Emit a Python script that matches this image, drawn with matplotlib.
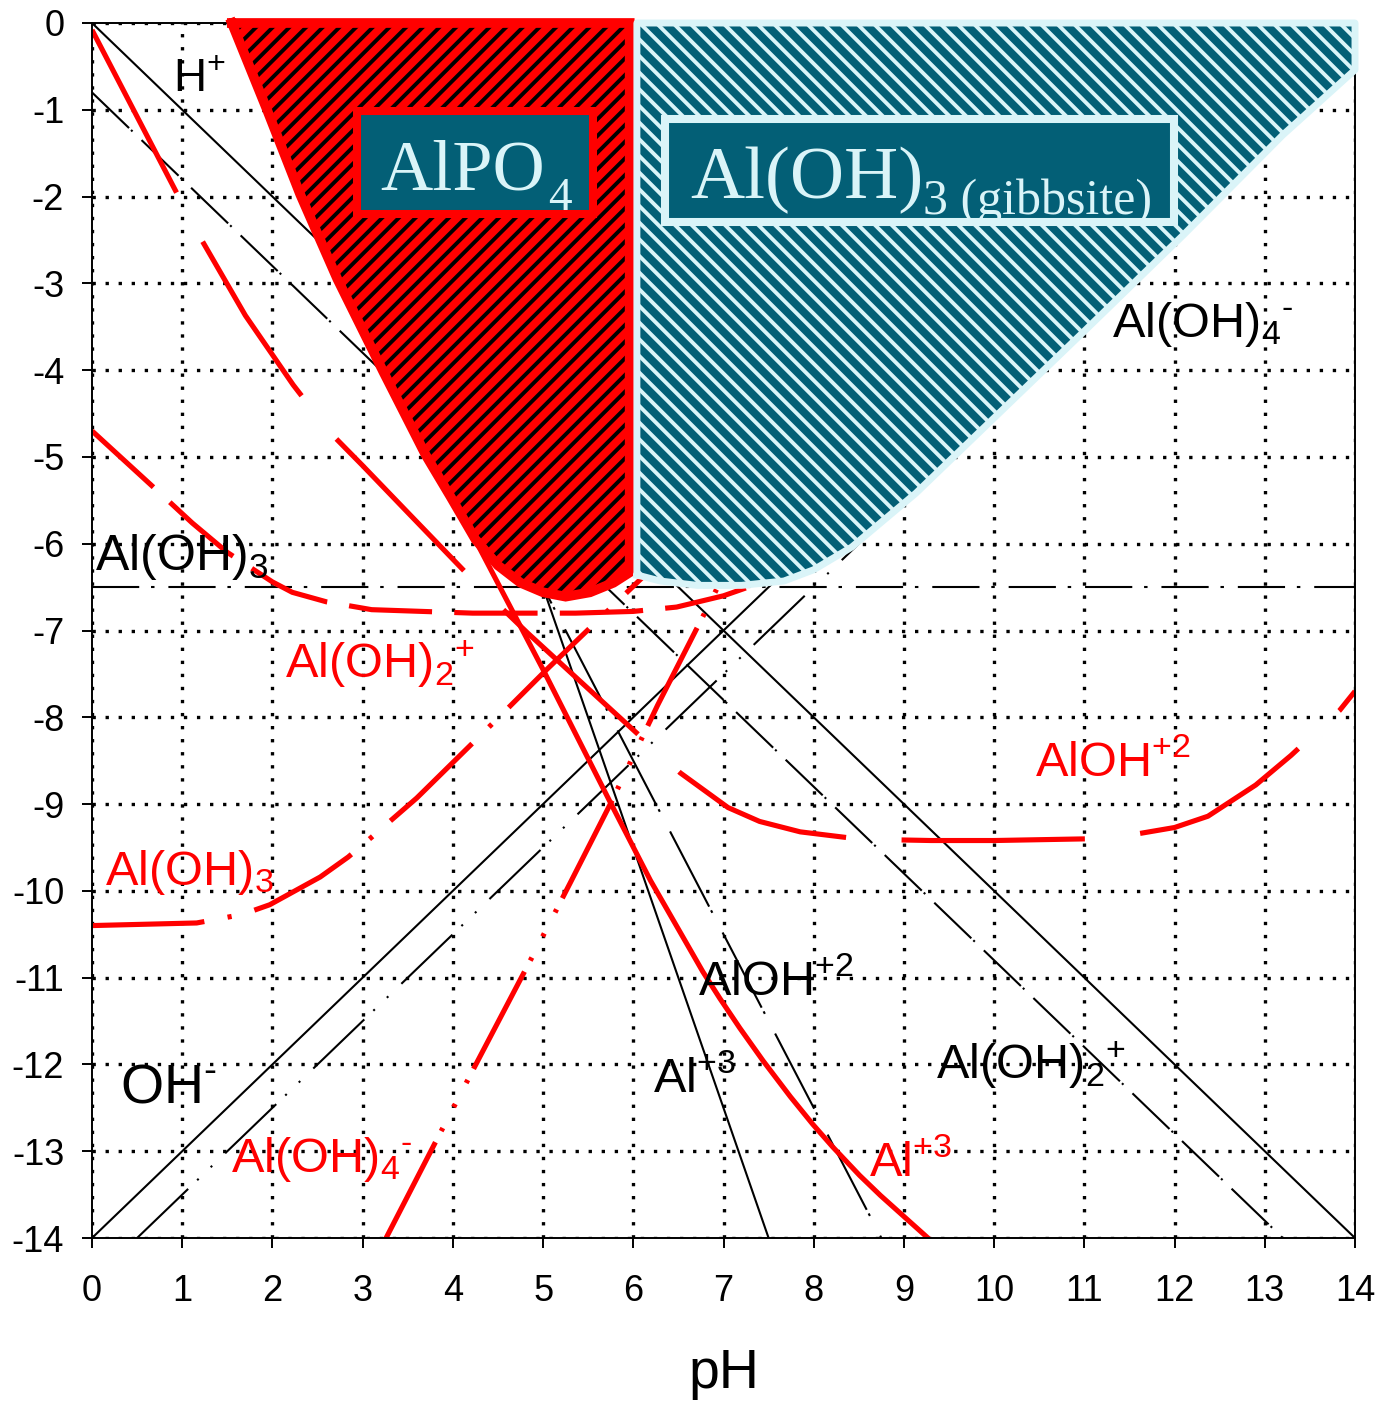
import matplotlib
matplotlib.use('Agg')
import matplotlib.pyplot as plt
from matplotlib.patches import Rectangle

plt.rcParams['font.family'] = ['Liberation Sans', 'DejaVu Sans']
plt.rcParams['mathtext.fontset'] = 'custom'
plt.rcParams['mathtext.rm'] = 'Liberation Sans'
plt.rcParams['axes.unicode_minus'] = False
plt.rcParams['lines.scale_dashes'] = False
plt.rcParams['hatch.linewidth'] = 2.8

RED = '#ff0000'
TEAL = '#035f76'
CYAN = '#daf4f8'

# black lines: equilibrium with gibbsite (pH, log C)
ph_h = [0, 14]
log_h = [0, -14]
ph_oh = [0, 14]
log_oh = [-14, 0]
ph_al3 = [2.83, 7.5]
log_al3 = [0, -14]
ph_aloh = [1.75, 8.75]
log_aloh = [0, -14]
ph_aloh2 = [0, 13.2]
log_aloh2 = [-0.8, -14]
ph_aloh3 = [0, 14]
log_aloh3 = [-6.5, -6.5]
ph_aloh4 = [0.5, 14]
log_aloh4 = [-14, -0.5]

# red curves: equilibrium with AlPO4
ph_al3_p = [4.0, 4.21, 5.0, 5.75, 6.19, 6.77, 6.96, 7.18, 7.44, 7.74, 7.99, 8.21, 8.51, 8.74, 9.32]
log_al3_p = [-5.46, -5.88, -7.45, -8.99, -9.88, -10.93, -11.24, -11.58, -11.96, -12.37, -12.69,
             -12.95, -13.28, -13.51, -14.05]
ph_aloh_p = [0, 0.88, 1.16, 1.7, 2.23, 2.64, 3.0, 3.5, 4.28, 4.83, 5.5, 6.52, 7.05, 7.4, 7.85,
             8.4, 8.8, 9.3, 10.0, 11.06, 11.55, 12.0, 12.37, 12.9, 13.29, 13.83, 14.0]
log_aloh_p = [-0.08, -1.84, -2.40, -3.37, -4.17, -4.72, -5.1, -5.64, -6.48, -7.03, -7.67, -8.64,
              -9.04, -9.2, -9.32, -9.39, -9.41, -9.42, -9.42, -9.40, -9.35, -9.27, -9.14, -8.78,
              -8.44, -7.92, -7.7]
ph_aloh2_p = [0, 0.84, 1.11, 1.5, 2.0, 2.22, 2.6, 3.1, 4.22, 5.36, 6.0, 6.48, 6.68, 7.0, 7.33, 8.0, 8.5]
log_aloh2_p = [-4.7, -5.5, -5.76, -6.1, -6.44, -6.56, -6.67, -6.76, -6.80, -6.80, -6.78, -6.73,
               -6.68, -6.6, -6.48, -5.95, -5.45]
ph_aloh3_p = [0, 1.16, 1.42, 1.67, 1.97, 2.25, 2.53, 2.84, 3.09, 3.6, 4.5, 5.04, 6.07, 6.5, 7.0]
log_aloh3_p = [-10.40, -10.37, -10.32, -10.27, -10.16, -10.0, -9.84, -9.61, -9.39, -8.93, -8.01,
               -7.45, -6.42, -6.0, -5.5]
ph_aloh4_p = [3.25, 3.81, 4.28, 4.88, 5.3, 5.75, 6.27, 6.82, 7.2]
log_aloh4_p = [-14.02, -12.89, -11.95, -10.76, -9.91, -8.99, -7.86, -6.74, -5.95]

# solid phase boundaries
alpo4_ph = [1.55, 1.94, 2.31, 2.72, 3.23, 3.7, 3.97, 4.25, 4.5, 4.75, 5.0, 5.25, 5.52, 5.78, 5.96]
alpo4_log = [0.0, -1.0, -1.98, -2.95, -4.02, -4.98, -5.45, -5.95, -6.25, -6.45, -6.56, -6.61,
             -6.56, -6.45, -6.33]
gibb_ph = [6.04, 6.3, 6.71, 7.2, 7.67, 8.0, 8.42, 9.13, 9.93, 11.0, 12.1, 13.2, 14.0]
gibb_log = [-6.36, -6.43, -6.48, -6.48, -6.43, -6.3, -6.04, -5.42, -4.62, -3.55, -2.44, -1.29, -0.54]

fig = plt.figure(figsize=(13.77, 14.01), dpi=100)
ax = fig.add_axes([92 / 1377, 1 - 1238 / 1401, 1263 / 1377, 1215 / 1401])
ax.set_xlim(0, 14)
ax.set_ylim(-14, 0)
ax.set_xticks(range(0, 15))
ax.set_yticks(range(-14, 1))
ax.set_axisbelow(True)
ax.grid(True, color='black', linestyle=(0, (2.4, 7)), linewidth=2.4)
ax.tick_params(labelsize=26, direction='out', length=7, width=1.4)
ax.tick_params(axis='x', pad=19)
ax.tick_params(axis='y', pad=13)
for s in ax.spines.values():
    s.set_linewidth(1.4)
ax.set_xlabel('pH', fontsize=40, labelpad=28)

blk = dict(color='black', lw=1.5, zorder=2)
ax.plot(ph_h, log_h, **blk)
ax.plot(ph_oh, log_oh, **blk)
ax.plot(ph_al3, log_al3, **blk)
ax.plot(ph_aloh, log_aloh, ls=(0, (61, 3, 2, 16)), **blk)
ax.plot(ph_aloh2, log_aloh2, ls=(0, (37, 2, 1.5, 9)), **blk)
ax.plot(ph_aloh3, log_aloh3, ls=(0, (34, 8.5, 2.5, 10)), **blk)
ax.plot(ph_aloh4, log_aloh4, ls=(0, (51, 9, 1.5, 12, 1.5, 13)), **blk)

red = dict(color=RED, lw=3.7, zorder=2.5)
ax.plot(ph_al3_p, log_al3_p, **red)
ax.plot(ph_aloh_p, log_aloh_p, ls=(0, (132, 40)), **red)
ax.plot(ph_aloh2_p, log_aloh2_p, ls=(0, (60, 16)), **red)
ax.plot(ph_aloh3_p, log_aloh3_p, ls=(0, (81, 17, 3, 17)), **red)
ax.plot(ph_aloh4_p, log_aloh4_p, ls=(0, (79, 9, 2.5, 17, 2.5, 17, 2.5, 9)), **red)

# AlPO4 field
px = alpo4_ph + [alpo4_ph[-1], alpo4_ph[0]]
py = alpo4_log + [0, 0]
ax.fill(px, py, facecolor=RED, edgecolor='black', hatch='//', lw=0, zorder=3)
ax.plot(px, py, color=RED, lw=7, zorder=4, clip_on=False, solid_joinstyle='miter')

# gibbsite field
gx = gibb_ph + [gibb_ph[-1], gibb_ph[0], gibb_ph[0]]
gy = gibb_log + [0, 0, gibb_log[0]]
ax.fill(gx, gy, facecolor=TEAL, edgecolor=CYAN, hatch='\\\\', lw=0, zorder=3)
ax.plot(gx, gy, color=CYAN, lw=5.0, zorder=4, clip_on=False)

box1 = Rectangle((2.94, -2.2), 2.61, 1.19, facecolor=TEAL, edgecolor=RED, lw=5.8, zorder=5)
box2 = Rectangle((6.35, -2.29), 5.64, 1.18, facecolor=TEAL, edgecolor=CYAN, lw=5.8, zorder=5)
ax.add_patch(box1)
ax.add_patch(box2)
serif = ['Liberation Serif', 'DejaVu Serif']
ax.text(3.19, -1.92, 'AlPO', family=serif, size=52, color=CYAN, zorder=6)
ax.text(5.06, -2.15, '4', family=serif, size=34, color=CYAN, zorder=6)
ax.text(6.63, -2.02, 'Al(OH)', family=serif, size=54, color=CYAN, zorder=6)
sub = ax.text(9.21, -2.2, '3 (gibbsite)', family=serif, size=36, color=CYAN, zorder=6)
sub.set_clip_path(box2)

HY = '\u2010'
labels = [
    (r'H$\mathregular{^{+}}$', 0.9, -0.80, 'black', 33),
    (r'Al(OH)$\mathregular{_{3}}$', 0.03, -6.30, 'black', 36),
    (r'Al(OH)$\mathregular{_{4}{}^{' + HY + '}}$', 11.31, -3.62, 'black', 35),
    (r'OH$\mathregular{^{' + HY + '}}$', 0.31, -12.44, 'black', 40),
    (r'AlOH$\mathregular{^{+2}}$', 6.72, -11.2, 'black', 35),
    (r'Al$\mathregular{^{+3}}$', 6.22, -12.32, 'black', 35),
    (r'Al(OH)$\mathregular{_{2}{}^{+}}$', 9.35, -12.17, 'black', 35),
    (r'Al(OH)$\mathregular{_{2}{}^{+}}$', 2.14, -7.55, RED, 35),
    (r'Al(OH)$\mathregular{_{3}}$', 0.14, -9.93, RED, 35),
    (r'Al(OH)$\mathregular{_{4}{}^{' + HY + '}}$', 1.54, -13.24, RED, 35),
    (r'AlOH$\mathregular{^{+2}}$', 10.45, -8.68, RED, 35),
    (r'Al$\mathregular{^{+3}}$', 8.61, -13.28, RED, 35),
]
for txt, x, y, c, size in labels:
    ax.text(x, y, txt, color=c, fontsize=size, ha='left', va='baseline', zorder=7)

fig.savefig('out.png', dpi=100)
